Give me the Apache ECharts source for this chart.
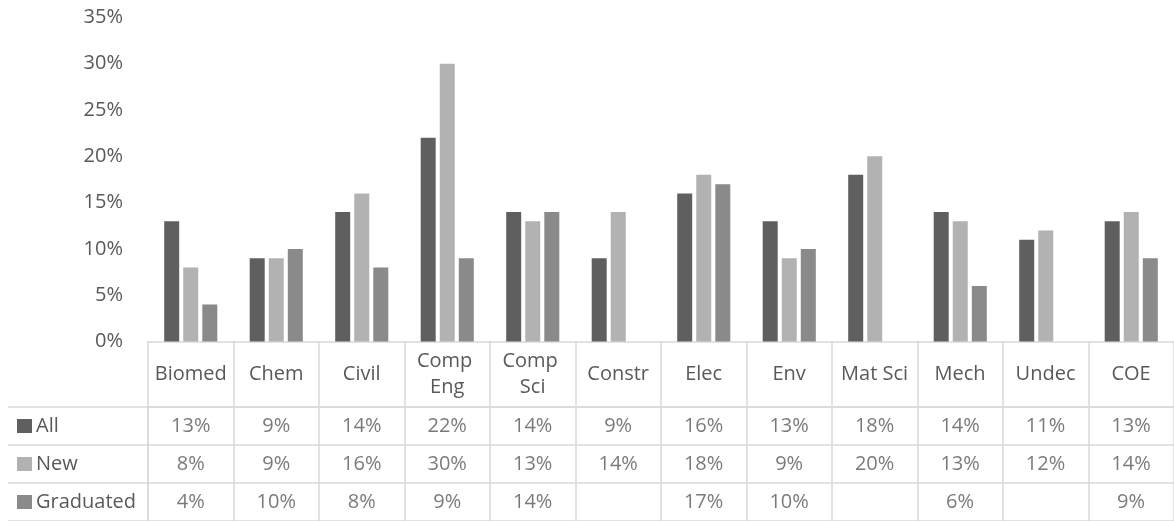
<!DOCTYPE html>
<html>
<head>
<meta charset="utf-8">
<script src="https://cdn.jsdelivr.net/npm/echarts@6/dist/echarts.min.js"></script>
<style>
html,body{margin:0;padding:0;background:#fff;}
#chart{width:1174px;height:521px;}
</style>
</head>
<body>
<div id="chart"></div>
<script>
var categories = ['Biomed','Chem','Civil','Comp Eng','Comp Sci','Constr','Elec','Env','Mat Sci','Mech','Undec','COE'];
var allValues = [13,9,14,22,14,9,16,13,18,14,11,13];
var newValues = [8,9,16,30,13,14,18,9,20,13,12,14];
var gradValues = [4,10,8,9,14,null,17,10,null,6,null,9];
var seriesNames = ['All','New','Graduated'];
var seriesColors = ['#5f5f5f','#b2b2b2','#8a8a8a'];
var yTicks = [0,5,10,15,20,25,30,35];

var FONT = 'Open Sans';
var TXT = '#595959';
var LINE = '#d9d9d9';
var FS = 20;

var rows = [allValues, newValues, gradValues];
var cellData = [];
rows.forEach(function(arr, r){
  arr.forEach(function(v, i){
    if (v !== null) cellData.push([i, r, v]);
  });
});

var rich = {};
seriesNames.forEach(function(n, k){
  rich['sq' + k] = {width: 15, height: 14, backgroundColor: seriesColors[k]};
});
rich.t = {color: TXT, fontSize: FS, fontFamily: FONT, padding: [0,0,0,4]};

var chart = echarts.init(document.getElementById('chart'));
var barSeries = seriesNames.map(function(n, k){
  return {
    name: n, type: 'bar', xAxisIndex: 0, yAxisIndex: 0,
    data: rows[k], barWidth: 15, barGap: '27%',
    itemStyle: {color: seriesColors[k]},
    animation: false
  };
});

chart.setOption({
  animation: false,
  textStyle: {fontFamily: FONT},
  grid: [
    {left: 148, width: 1027, top: 17.5, height: 324},
    {left: 148, width: 1027, top: 407, height: 114}
  ],
  xAxis: [
    {gridIndex: 0, type: 'category', data: categories,
     axisLine: {show: true, lineStyle: {color: LINE, width: 1.5}},
     axisTick: {show: false}, axisLabel: {show: false}},
    {gridIndex: 1, type: 'category', data: categories, position: 'top',
     axisLine: {show: true, lineStyle: {color: LINE, width: 1.5}},
     axisTick: {show: true, length: 66, inside: false, lineStyle: {color: LINE, width: 1.5}},
     splitLine: {show: true, lineStyle: {color: LINE, width: 1.5}},
     axisLabel: {show: true, color: TXT, fontSize: FS, fontFamily: FONT, margin: 33,
       verticalAlign: 'middle', width: 80, overflow: 'break', lineHeight: 26, interval: 0}}
  ],
  yAxis: [
    {gridIndex: 0, type: 'value', min: yTicks[0], max: yTicks[yTicks.length - 1], interval: 5,
     axisLine: {show: false}, axisTick: {show: false}, splitLine: {show: false},
     axisLabel: {color: TXT, fontSize: FS, fontFamily: FONT, margin: 25,
       formatter: function(v){ return v + '%'; }}},
    {gridIndex: 1, type: 'category', data: seriesNames, inverse: true,
     axisLine: {show: true, lineStyle: {color: LINE, width: 1.5}},
     axisTick: {show: true, length: 140, inside: false, lineStyle: {color: LINE, width: 1.5}},
     splitLine: {show: true, lineStyle: {color: LINE, width: 1.5}},
     axisLabel: {show: true, align: 'left', margin: 131, rich: rich,
       formatter: function(v){ var k = seriesNames.indexOf(v); return '{sq' + k + '|}{t|' + v + '}'; }}},
    {gridIndex: 1, type: 'category', data: seriesNames, inverse: true, offset: 140,
     axisLine: {show: true, lineStyle: {color: LINE, width: 1.5}},
     axisTick: {show: false}, axisLabel: {show: false}, splitLine: {show: false}}
  ],
  series: barSeries.concat([{
    name: 'table', type: 'scatter', xAxisIndex: 1, yAxisIndex: 1,
    data: cellData, symbolSize: 1, itemStyle: {color: 'rgba(0,0,0,0)'},
    label: {show: true, position: 'inside', color: TXT, fontSize: FS, fontFamily: FONT,
      formatter: function(p){ return p.value[2] + '%'; }},
    silent: true
  }])
});
</script>
</body>
</html>
